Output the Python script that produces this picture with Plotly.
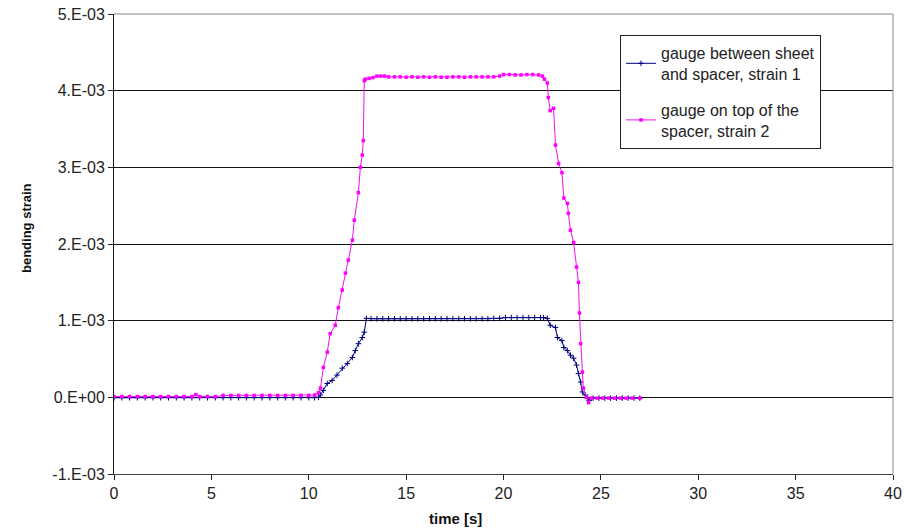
import plotly.graph_objects as go

# Strain gauge readings, values in units of 1e-3
t_strain1 = [0.0, 0.4, 0.8, 1.2, 1.6, 2.0, 2.4, 2.8, 3.2, 3.6, 4.0, 4.4, 4.8, 5.2, 5.6,
             6.0, 6.4, 6.8, 7.2, 7.6, 8.0, 8.4, 8.8, 9.2, 9.6, 10.0, 10.3, 10.5, 10.6,
             10.75, 10.95, 11.2, 11.45, 11.72, 11.98, 12.24, 12.39, 12.55, 12.75, 12.85,
             12.96, 13.2, 13.5, 13.8, 14.1, 14.4, 14.7, 15.0, 15.3, 15.6, 15.9, 16.2,
             16.5, 16.8, 17.1, 17.4, 17.7, 18.0, 18.3, 18.6, 18.9, 19.2, 19.5, 19.8,
             20.1, 20.4, 20.7, 21.0, 21.3, 21.6, 21.9, 22.05, 22.25, 22.4, 22.67, 22.77,
             23.0, 23.1, 23.28, 23.44, 23.6, 23.75, 23.85, 23.96, 24.05, 24.2, 24.3,
             24.4, 24.6, 24.9, 25.2, 25.5, 25.8, 26.1, 26.4, 26.7, 27.0]
strain1 = [-0.005, -0.005, -0.005, -0.005, -0.005, -0.005, -0.005, -0.005, -0.005, -0.005,
           -0.005, -0.005, -0.005, -0.005, -0.005, -0.005, -0.005, -0.005, -0.005, -0.005,
           -0.005, -0.005, -0.005, -0.005, -0.005, -0.005, -0.005, 0.0, 0.03,
           0.09, 0.18, 0.22, 0.29, 0.38, 0.44, 0.52, 0.61, 0.70, 0.78, 0.85,
           1.03, 1.025, 1.025, 1.025, 1.025, 1.025, 1.025, 1.025, 1.025, 1.025, 1.025, 1.025,
           1.025, 1.025, 1.025, 1.025, 1.025, 1.025, 1.025, 1.025, 1.025, 1.025, 1.03, 1.03,
           1.04, 1.04, 1.04, 1.04, 1.04, 1.04, 1.04, 1.04, 1.03, 0.94, 0.91, 0.78,
           0.74, 0.65, 0.61, 0.55, 0.51, 0.42, 0.31, 0.20, 0.07, 0.03, -0.01,
           -0.04, -0.01, -0.01, -0.01, -0.01, -0.01, -0.01, -0.01, -0.01, -0.01]

t_strain2 = [0.0, 0.4, 0.8, 1.2, 1.6, 2.0, 2.4, 2.8, 3.2, 3.6, 4.0, 4.2, 4.4, 4.8, 5.2,
             5.6, 6.0, 6.4, 6.8, 7.2, 7.6, 8.0, 8.4, 8.8, 9.2, 9.6, 10.0, 10.3, 10.5,
             10.6, 10.75, 10.95, 11.1, 11.36, 11.52, 11.72, 11.88, 12.03, 12.24, 12.34,
             12.55, 12.65, 12.75, 12.8, 12.85, 12.9, 13.1, 13.3, 13.5, 13.7, 13.9, 14.1,
             14.4, 14.7, 15.0, 15.3, 15.6, 15.9, 16.2, 16.5, 16.8, 17.1, 17.4, 17.7, 18.0,
             18.3, 18.6, 18.9, 19.2, 19.5, 19.8, 20.0, 20.3, 20.6, 20.9, 21.2, 21.5, 21.8,
             22.0, 22.1, 22.25, 22.3, 22.4, 22.57, 22.67, 22.83, 23.0, 23.1, 23.28, 23.33,
             23.44, 23.6, 23.75, 23.85, 23.9, 23.96, 24.05, 24.1, 24.27, 24.37, 24.5,
             24.8, 25.1, 25.4, 25.7, 26.0, 26.3, 26.6, 27.0]
strain2 = [0.01, 0.01, 0.01, 0.01, 0.01, 0.01, 0.01, 0.01, 0.01, 0.01, 0.01, 0.035, 0.01,
           0.01, 0.01, 0.025, 0.025, 0.025, 0.025, 0.025, 0.025, 0.025, 0.025, 0.025,
           0.025, 0.025, 0.025, 0.03, 0.06, 0.12, 0.39, 0.59, 0.83, 0.94, 1.17, 1.40, 1.62,
           1.79, 2.05, 2.31, 2.67, 3.00, 3.16, 3.35, 4.13, 4.15, 4.16, 4.17, 4.19, 4.19,
           4.19, 4.18, 4.18, 4.18, 4.175, 4.18, 4.175, 4.18, 4.175, 4.18, 4.175, 4.175,
           4.18, 4.18, 4.175, 4.18, 4.18, 4.18, 4.18, 4.18, 4.19, 4.21, 4.21, 4.205, 4.205,
           4.21, 4.21, 4.205, 4.19, 4.15, 4.10, 3.91, 3.74, 3.77, 3.29, 3.05, 2.93, 2.60,
           2.53, 2.40, 2.18, 2.02, 1.70, 1.50, 1.10, 0.70, 0.33, 0.12, 0.0, -0.07, -0.01,
           -0.01, -0.01, -0.01, -0.01, -0.01, -0.01, -0.01, -0.01, -0.01]

y_ticks = [-1e-3, 0.0, 1e-3, 2e-3, 3e-3, 4e-3, 5e-3]
y_tick_text = ["-1.E-03", "0.E+00", "1.E-03", "2.E-03", "3.E-03", "4.E-03", "5.E-03"]
x_ticks = [0, 5, 10, 15, 20, 25, 30, 35, 40]

FONT = "Liberation Sans, Arial, sans-serif"

fig = go.Figure()
fig.add_trace(go.Scatter(
    x=t_strain1, y=[v * 1e-3 for v in strain1],
    mode="lines+markers",
    name="gauge between sheet<br>and spacer, strain 1",
    legendgroup="s1",
    line=dict(color="#000080", width=1),
    marker=dict(symbol="cross-thin", size=4, color="#000080",
                line=dict(color="#000080", width=1)),
))
fig.add_trace(go.Scatter(
    x=t_strain2, y=[v * 1e-3 for v in strain2],
    mode="lines+markers",
    name="gauge on top of the<br>spacer, strain 2",
    legendgroup="s2",
    line=dict(color="#EE11EE", width=1),
    marker=dict(symbol="square", size=3.5, color="#FF00FF"),
))

fig.update_layout(
    width=904, height=532,
    margin=dict(l=114, r=11, t=14, b=58, autoexpand=False),
    paper_bgcolor="white", plot_bgcolor="white",
    font=dict(family=FONT, size=16, color="#222222"),
    showlegend=True,
    legend=dict(
        x=(620 - 114) / 779, y=(474 - 35) / 460, xanchor="left", yanchor="top",
        bgcolor="white", bordercolor="#222222", borderwidth=1,
        font=dict(family=FONT, size=16, color="#222222"),
        tracegroupgap=12,
    ),
    xaxis=dict(
        range=[0, 40], tickvals=x_ticks, ticks="outside", ticklen=5,
        tickcolor="#222222", showgrid=False, zeroline=False, automargin=False,
        showline=True, linecolor="#444444", linewidth=1,
    ),
    yaxis=dict(
        range=[-1e-3, 5e-3], tickvals=y_ticks, ticktext=y_tick_text,
        ticks="outside", ticklen=5, tickcolor="#222222", automargin=False,
        showgrid=True, gridcolor="#111111", gridwidth=1, zeroline=False,
        showline=True, linecolor="#111111", linewidth=1,
    ),
    annotations=[
        dict(text="<b>time [s]</b>", xref="paper", yref="paper",
             x=(455 - 114) / 779, y=-(518 - 474) / 460, showarrow=False,
             xanchor="center", yanchor="middle",
             font=dict(family=FONT, size=15, color="#111111")),
        dict(text="<b>bending strain</b>", xref="paper", yref="paper",
             x=-(114 - 26) / 779, y=(474 - 228) / 460, showarrow=False,
             textangle=-90, xanchor="center", yanchor="middle",
             font=dict(family=FONT, size=13, color="#111111")),
    ],
    shapes=[
        dict(type="line", xref="paper", yref="paper", x0=0, x1=1, y0=1, y1=1,
             line=dict(color="#888888", width=1), layer="above"),
        dict(type="line", xref="paper", yref="paper", x0=1, x1=1, y0=0, y1=1,
             line=dict(color="#888888", width=1), layer="above"),
    ],
)

fig.write_html("out.html")
